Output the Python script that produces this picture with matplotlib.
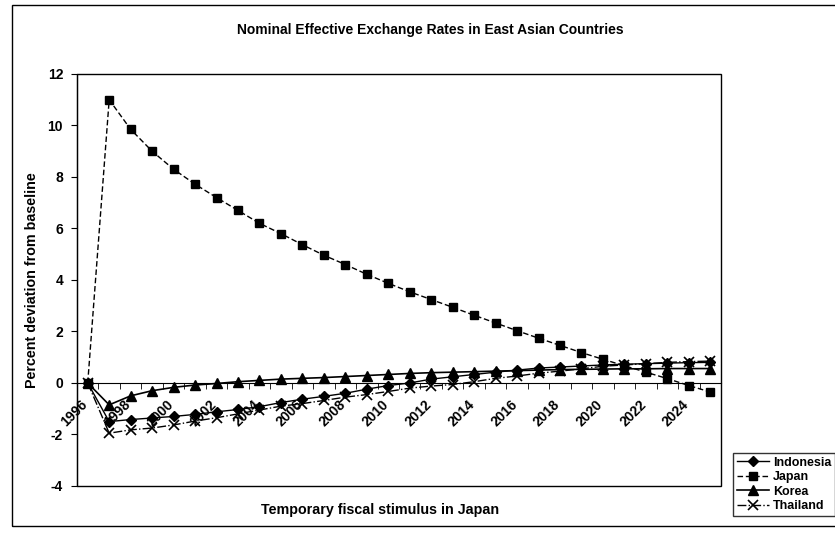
import matplotlib.pyplot as plt
import matplotlib.patches as patches
import matplotlib.transforms as mtransforms
import numpy as np

plt.rcParams['font.family'] = ['Liberation Sans', 'DejaVu Sans']
plt.rcParams['font.weight'] = 'bold'
plt.rcParams['axes.unicode_minus'] = False

years = list(range(1996, 2026))
indonesia = [0, -1.5, -1.42, -1.36, -1.3, -1.22, -1.12, -1.03, -0.92, -0.76, -0.63, -0.52,
             -0.4, -0.24, -0.1, 0.0, 0.15, 0.24, 0.33, 0.42, 0.5, 0.58, 0.62, 0.66,
             0.7, 0.73, 0.75, 0.77, 0.79, 0.8]
japan = [0, 11.0, 9.85, 9.0, 8.3, 7.72, 7.2, 6.7, 6.2, 5.8, 5.37, 4.96, 4.6, 4.22,
         3.87, 3.54, 3.24, 2.94, 2.63, 2.33, 2.03, 1.74, 1.46, 1.18, 0.92, 0.67,
         0.42, 0.17, -0.1, -0.35]
korea = [0, -0.85, -0.5, -0.3, -0.17, -0.08, -0.02, 0.05, 0.1, 0.15, 0.18, 0.21,
         0.25, 0.29, 0.33, 0.37, 0.4, 0.42, 0.44, 0.46, 0.48, 0.5, 0.52, 0.53,
         0.54, 0.55, 0.55, 0.56, 0.56, 0.56]
thailand = [0, -1.95, -1.82, -1.75, -1.63, -1.48, -1.35, -1.2, -1.05, -0.9, -0.8,
            -0.68, -0.55, -0.45, -0.33, -0.2, -0.12, -0.06, 0.05, 0.18, 0.27, 0.38,
            0.46, 0.55, 0.65, 0.7, 0.75, 0.8, 0.83, 0.85]

fig = plt.figure(figsize=(8.35, 5.38), dpi=100)
ax = fig.add_axes([0.0922, 0.0967, 0.7713, 0.7658])

ax.plot(years, indonesia, color='black', lw=1, marker='D', ms=5, label='Indonesia')
ax.plot(years, japan, color='black', lw=1, ls=(0, (4, 2)), marker='s', ms=6, label='Japan')
ax.plot(years, korea, color='black', lw=1.2, marker='^', ms=7, label='Korea')
ax.plot(years, thailand, color='black', lw=1, ls='-.', marker='x', ms=7, mew=1.2, label='Thailand')

ax.set_xlim(1995.5, 2025.5)
ax.set_ylim(-4, 12)
ax.set_yticks(np.arange(-4, 13, 2))
ax.tick_params(axis='y', direction='out', length=4, labelsize=10, pad=6)

# x axis crosses at zero, like the Excel chart
ax.spines['bottom'].set_position(('data', 0))
for s in ['top', 'right']:
    ax.spines[s].set_visible(False)
ax.add_patch(patches.Rectangle((0, 0), 1, 1, transform=ax.transAxes, fill=False,
                               edgecolor='black', lw=1, clip_on=False))
ax.set_xticks(years[::2][:15])
ax.set_xticks(np.arange(1995.5, 2026, 1), minor=True)
ax.tick_params(axis='x', which='major', length=0, labelsize=10, pad=3)
ax.tick_params(axis='x', which='minor', direction='out', length=4)
shift = mtransforms.ScaledTranslation(-7 / 100, -10 / 100, fig.dpi_scale_trans)
for lab in ax.get_xticklabels():
    lab.set_rotation(45)
    lab.set_ha('right')
    lab.set_va('top')
    lab.set_rotation_mode('anchor')
    lab.set_transform(lab.get_transform() + shift)

ax.set_ylabel('Percent deviation from baseline', fontsize=10.3, fontweight='bold', labelpad=6)
fig.text(0.455, 0.052, 'Temporary fiscal stimulus in Japan', ha='center', va='center',
         fontsize=10.3, fontweight='bold')
fig.text(0.515, 0.945, 'Nominal Effective Exchange Rates in East Asian Countries',
         ha='center', va='center', fontsize=10, fontweight='bold')

# outer chart border
fig.patches.append(patches.Rectangle((0.0144, 0.022), 1.0, 0.968, transform=fig.transFigure,
                                     fill=False, edgecolor='black', lw=1))

leg = ax.legend(loc='upper left', bbox_to_anchor=(733 / 835, 1 - 453 / 538),
                bbox_transform=fig.transFigure, fontsize=9, frameon=True, fancybox=False,
                handlelength=2.6, handletextpad=0.3, labelspacing=0.2, borderpad=0.3,
                borderaxespad=0)
leg.get_frame().set_edgecolor('black')
leg.get_frame().set_linewidth(1)

fig.savefig('out.png', dpi=100)
